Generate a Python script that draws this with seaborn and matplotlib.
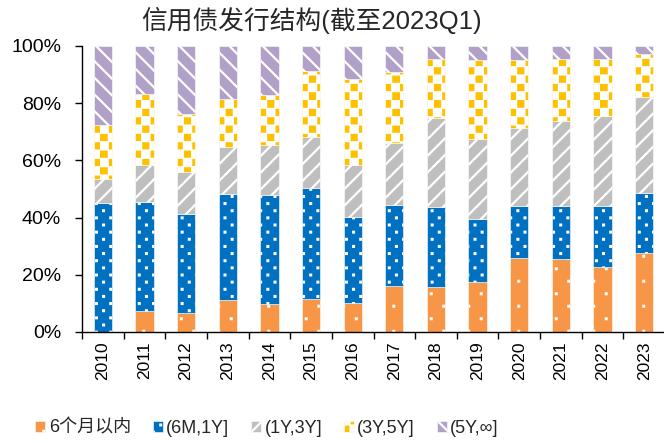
import warnings
import numpy as np
import pandas as pd
import matplotlib
matplotlib.use("Agg")
import matplotlib.pyplot as plt
import seaborn as sns
from matplotlib import hatch as mhatch
from matplotlib.path import Path
from matplotlib.patches import Patch
from matplotlib.ticker import FuncFormatter, FixedLocator

warnings.filterwarnings("ignore")

years = ["2010", "2011", "2012", "2013", "2014", "2015", "2016",
         "2017", "2018", "2019", "2020", "2021", "2022", "2023"]
series_names = ["6个月以内", "(6M,1Y]", "(1Y,3Y]", "(3Y,5Y]", "(5Y,∞]"]
# shares in percent
within_6m = [0.0, 7.5, 6.6, 11.3, 9.7, 11.5, 10.1, 16.1, 15.9, 17.6, 25.9, 25.6, 22.7, 27.5]
m6_1y = [45.0, 38.1, 34.8, 37.0, 38.1, 38.8, 30.2, 28.3, 27.7, 22.0, 18.2, 18.3, 21.2, 21.0]
y1_3y = [8.4, 12.7, 14.7, 16.3, 17.5, 17.9, 18.0, 21.8, 31.3, 28.0, 27.3, 29.9, 31.6, 33.6]
y3_5y = [19.0, 24.8, 20.2, 16.8, 17.5, 23.1, 30.0, 24.6, 20.4, 27.5, 23.8, 21.5, 20.1, 15.1]
y5_inf = [27.6, 16.9, 23.7, 18.6, 17.2, 8.7, 11.7, 9.2, 4.7, 4.9, 4.8, 4.7, 4.4, 2.8]

colors = ["#F79646", "#0070C0", "#BFBFBF", "#FFC000", "#B1A0C7"]
# 'q' = square dots, 'c' = checkerboard (custom patterns below)
hatches = ["qqqq", "qqqqqqq", "//", "cc", "\\\\"]

HATCH_LW = 1.6  # points
STROKE = HATCH_LW / 72  # stroke width in hatch-tile units (tile = 72 pt)


class _Grid(mhatch.HatchPatternBase):
    filled = True
    char = "?"
    step = 2

    def __init__(self, hatch, density):
        self.n = hatch.count(self.char) * self.step
        self.num_vertices = ((self.n * self.n + 1) // 2) * 5 if self.n else 0

    def set_vertices_and_codes(self, vertices, codes):
        s = 1.0 / self.n
        a = self.size(s)
        o = (s - a) / 2
        sq = np.array([[0, 0], [a, 0], [a, a], [0, a], [0, 0]]) + o
        parts = [sq + [c * s, r * s]
                 for r in range(self.n) for c in range(self.n) if (r + c) % 2 == 0]
        vertices[:] = np.concatenate(parts)
        codes[:] = np.tile([Path.MOVETO, Path.LINETO, Path.LINETO,
                            Path.LINETO, Path.CLOSEPOLY], len(parts))


class Checker(_Grid):
    char = "c"
    step = 6

    def size(self, s):
        return max(s - 0.5 * STROKE, 0.001)


class Dots(_Grid):
    char = "q"
    step = 2

    def size(self, s):
        return 0.008


mhatch._hatch_types.extend([Checker, Dots])

sns.set_theme(style="white")
plt.rcParams["font.family"] = ["Liberation Sans", "Noto Sans CJK SC"]
plt.rcParams["hatch.linewidth"] = HATCH_LW

df = pd.DataFrame({
    "year": years,
    series_names[0]: within_6m,
    series_names[1]: m6_1y,
    series_names[2]: y1_3y,
    series_names[3]: y3_5y,
    series_names[4]: y5_inf,
})

fig = plt.figure(figsize=(6.64, 4.43), dpi=100)
ax = fig.add_axes([0.1235, 0.2506, 0.878, 0.6456])

bottom = np.zeros(len(years))
for name, col, h in zip(series_names, colors, hatches):
    vals = df[name].to_numpy() / 100
    sns.barplot(x=df["year"], y=vals, bottom=bottom, color=col, saturation=1,
                hatch=h, edgecolor="white", linewidth=0.4, width=0.44,
                errorbar=None, ax=ax)
    bottom = bottom + vals

ax.set_xlim(-0.5, len(years) - 0.5)
ax.set_ylim(0, 1)
ax.set_yticks(np.linspace(0, 1, 6))
ax.yaxis.set_major_formatter(FuncFormatter(lambda v, _: f"{v:.0%}"))
ax.set_xlabel("")
ax.set_ylabel("")
ax.xaxis.set_minor_locator(FixedLocator(np.arange(-0.5, len(years), 1.0)))
ax.tick_params(axis="x", which="major", length=0, pad=7, labelsize=12.5,
               labelrotation=90, colors="black")
ax.tick_params(axis="x", which="minor", length=5, width=1, color="black",
               direction="out", bottom=True)
ax.tick_params(axis="y", length=5, width=1, color="black", direction="out",
               left=True, pad=10, labelsize=14, labelcolor="black")
sns.despine(ax=ax)
for sp in ["left", "bottom"]:
    ax.spines[sp].set_color("black")
    ax.spines[sp].set_linewidth(1)

fig.text(311 / 664, 1 - 20 / 443, "信用债发行结构(截至2023Q1)", ha="center",
         va="center", fontsize=18.5)

handles = [Patch(facecolor=c, edgecolor="white", hatch=h, linewidth=0.4)
           for c, h in zip(colors, hatches)]
fig.legend(handles, series_names, loc="center", bbox_to_anchor=(267 / 664, 1 - 428 / 443),
           ncol=5, frameon=False, fontsize=13, handlelength=0.55, handleheight=0.55,
           handletextpad=0.2, columnspacing=1.2, borderpad=0)

fig.savefig("out.png", dpi=100)
